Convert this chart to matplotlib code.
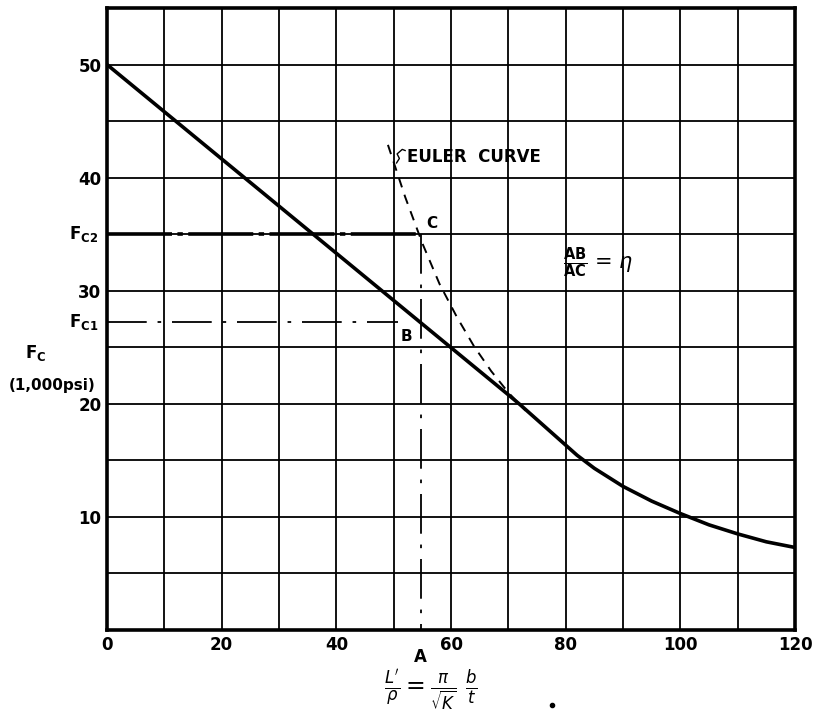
import matplotlib.pyplot as plt
from matplotlib.lines import Line2D

# main column curve (straight line then Euler tail)
curve_x = [0, 70, 72, 74, 76, 78, 80, 82, 85, 90, 95, 100, 105, 110, 115, 120]
curve_y = [50, 20.8, 19.95, 19.05, 18.15, 17.25, 16.35, 15.45, 14.3, 12.7, 11.4, 10.3, 9.3, 8.5, 7.8, 7.3]

# dashed Euler curve
euler_x = [49, 52, 55, 58, 61, 64, 67, 70, 73]
euler_y = [42.9, 38.3, 34.2, 30.6, 27.7, 25.1, 22.9, 21.0, 19.4]

fc2 = 35.0
fc1 = 27.2
x_a = 54.7
fc1_end = 50.8

x_ticks = [0, 20, 40, 60, 80, 100, 120]
y_ticks = [10, 20, 30, 40, 50]

fig = plt.figure(figsize=(8.18, 7.23), dpi=100)
ax = fig.add_axes([0.1308, 0.1286, 0.8411, 0.8603])
ax.set_xlim(0, 120)
ax.set_ylim(0, 55)

# grid
for gx in range(10, 120, 10):
    ax.axvline(gx, color='black', lw=1.3, zorder=1)
for gy in range(5, 55, 5):
    ax.axhline(gy, color='black', lw=1.3, zorder=1)

for s in ax.spines.values():
    s.set_linewidth(2.6)

ax.plot(curve_x, curve_y, color='black', lw=2.6, zorder=3, solid_joinstyle='round')
ax.plot(euler_x, euler_y, color='black', lw=1.4, dashes=(5, 4), zorder=3)

# F_c2 and F_c1 lines, line down to A
ax.plot([0, x_a], [fc2, fc2], color='black', lw=2.6, dashes=(18, 1.5, 1.5, 1.5), zorder=3)
ax.plot([0, fc1_end], [fc1, fc1], color='black', lw=1.3, dashes=(22, 6, 2, 6), zorder=3)
ax.plot([x_a, x_a], [fc2, 0], color='black', lw=1.3, dashes=(22, 6, 2, 6), zorder=3)

ax.set_xticks(x_ticks)
ax.set_xticklabels([str(v) for v in x_ticks], fontsize=12, fontweight='bold')
ax.set_yticks(y_ticks)
ax.set_yticklabels([str(v) for v in y_ticks], fontsize=12, fontweight='bold')
ax.tick_params(length=0, pad=4)

tf = dict(fontsize=12, fontweight='bold', color='black')
ax.text(x_a, -1.6, 'A', ha='center', va='top', **tf)
ax.text(55.6, 35.3, 'C', ha='left', va='bottom', fontsize=11, fontweight='bold')
ax.text(51.3, 26.6, 'B', ha='left', va='top', fontsize=11, fontweight='bold')
ax.text(52.3, 41.0, 'EULER  CURVE', ha='left', va='bottom', fontsize=12, fontweight='bold')
ax.plot([50.5, 51.0, 50.6, 51.5, 52.0], [41.3, 41.7, 42.1, 42.5, 42.4], color='black', lw=1.0)
ax.text(79.5, 32.5, r'$\mathbf{\frac{AB}{AC}}$ = $\eta$', ha='left', va='center', fontsize=15)

ax.text(-1.5, fc2, r'F$_{\mathregular{C2}}$', ha='right', va='center', **tf)
ax.text(-1.5, fc1, r'F$_{\mathregular{C1}}$', ha='right', va='center', **tf)
ax.text(-12.5, 24.5, r'F$_{\mathregular{C}}$', ha='center', va='center', **tf)
ax.text(-9.5, 21.6, '(1,000psi)', ha='center', va='center', fontsize=11, fontweight='bold')

fig.text(0.527, 0.045, r"$\frac{L'}{\rho} = \frac{\pi}{\sqrt{K}}\ \frac{b}{t}$",
         ha='center', va='center', fontsize=17)
# stray dot on the drawing
fig.add_artist(Line2D([0.675], [0.025], marker='o', ms=3, color='black'))

fig.savefig('out.png', dpi=100)
